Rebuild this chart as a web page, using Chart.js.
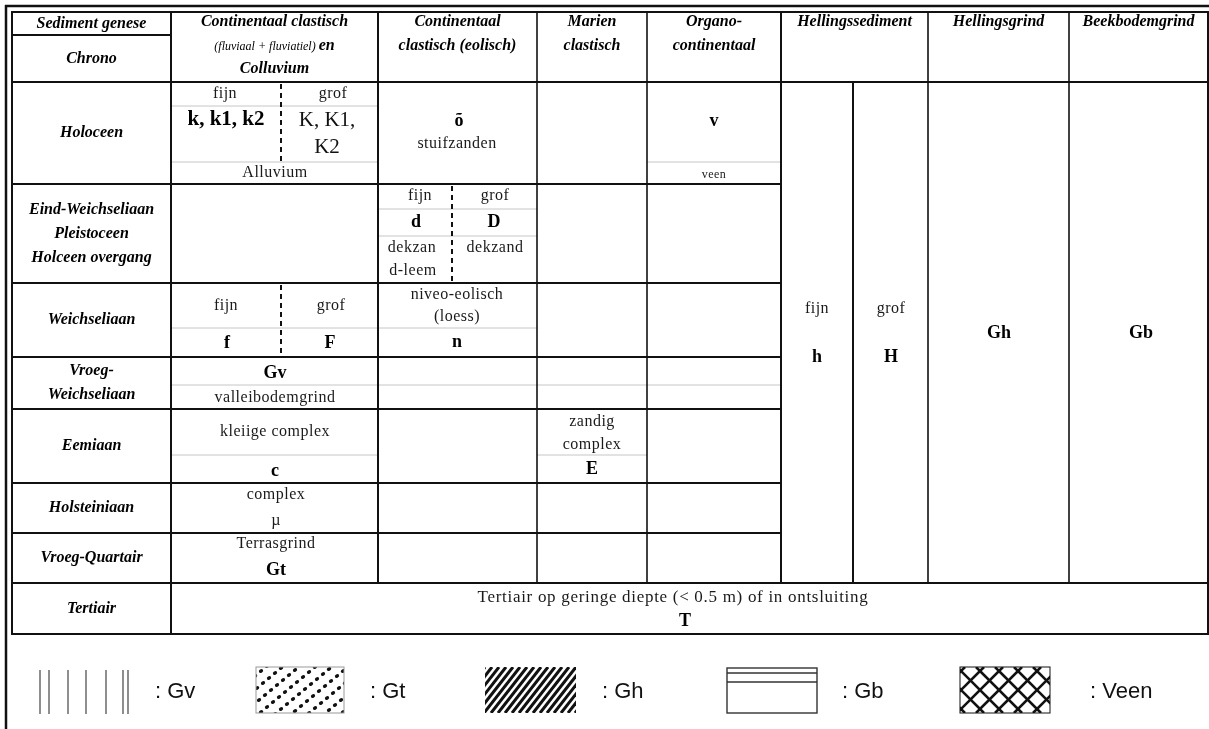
<!DOCTYPE html>
<html>
<head>
<meta charset="utf-8">
<script src="https://cdn.jsdelivr.net/npm/chart.js@4.4.0/dist/chart.umd.min.js"></script>
<style>
  html, body { margin: 0; padding: 0; background: #fff; overflow: hidden; }
</style>
</head>
<body>
<canvas id="tabel" width="1209" height="729"></canvas>
<script>
// ---- data ----
const chrono = ['Holoceen', 'Eind-Weichseliaan\nPleistoceen\nHolceen overgang', 'Weichseliaan',
  'Vroeg-\nWeichseliaan', 'Eemiaan', 'Holsteiniaan', 'Vroeg-Quartair', 'Tertiair'];
const genese = ['Continentaal clastisch\n(fluviaal + fluviatiel) en\nColluvium', 'Continentaal\nclastisch (eolisch)',
  'Marien\nclastisch', 'Organo-\ncontinentaal', 'Hellingssediment', 'Hellingsgrind', 'Beekbodemgrind'];
const cornerTexts = ['Sediment genese', 'Chrono'];
const cellTexts = ['fijn', 'grof', 'Alluvium', 'stuifzanden', 'fijn', 'grof', 'dekzan', 'd-leem', 'dekzand',
  'fijn', 'grof', 'niveo-eolisch', '(loess)', 'valleibodemgrind', 'kleiige complex', 'zandig', 'complex',
  'complex', '\u00b5', 'Terrasgrind', 'fijn', 'grof'];
const tertiairText = ['Tertiair op geringe diepte (< 0.5 m) of in ontsluiting'];
const smallTexts = ['veen'];
const bigCodes = ['k, k1, k2'];
const bigTexts = ['K, K1,', 'K2'];
const codeTexts = ['\u00f5', 'v', 'd', 'D', 'f', 'F', 'n', 'Gv', 'c', 'E', 'Gt', 'T', 'h', 'H', 'Gh', 'Gb'];
const legendCodes = ['Gv', 'Gt', 'Gh', 'Gb', 'Veen'];

// ---- layout (table units) ----
const colEdges = [12, 171, 378, 537, 647, 781, 928, 1069, 1208];
const rowEdges = [12, 82, 184, 283, 357, 409, 483, 533, 583, 634];
const hellingSplit = 853;
const cellPos = [[225, 94], [333, 94], [275, 173], [457, 144], [420, 196], [495, 196], [412, 248], [413, 271], [495, 248],
  [226, 306], [331, 306], [457, 295], [457, 317], [275, 398], [275, 432], [592, 422], [592, 445],
  [276, 495], [276, 521], [276, 544], [817, 309], [891, 309]];
const tertiairPos = [[673, 598]];
const smallPos = [[714, 175]];
const bigCodePos = [[226, 120]];
const bigPos = [[327, 120], [327, 147]];
const codePos = [[459, 121], [714, 121], [416, 222], [494, 222], [227, 343], [330, 343], [457, 342], [275, 373],
  [275, 471], [592, 469], [276, 570], [685, 621], [817, 357], [891, 357], [999, 333], [1141, 333]];
const legendBox = [[40, 128], [256, 344], [485, 576], [727, 817], [960, 1050]];
const legendTextX = [155, 370, 602, 842, 1090];

const serif = '"Liberation Serif", "Times New Roman", serif';
const sans = '"Liberation Sans", Arial, sans-serif';

function pts(list) { return list.map(p => ({ x: p[0], y: p[1] })); }
function ds(label, texts, pos, font, color, lh, spacing) {
  return { label: label, data: pts(pos), texts: texts, font: font, color: color || '#111',
    lineHeight: lh || 23, spacing: spacing || '0px', pointRadius: 0 };
}

const chronoPos = chrono.map((c, i) => [(colEdges[0] + colEdges[1]) / 2, (rowEdges[i + 1] + rowEdges[i + 2]) / 2]);
const cornerPos = [[(colEdges[0] + colEdges[1]) / 2, 23.5], [(colEdges[0] + colEdges[1]) / 2, 58.5]];
const genesePos = genese.map((g, i) => [(colEdges[i + 1] + colEdges[i + 2]) / 2, 22]);

const tablePlugin = {
  id: 'tabel',
  beforeDatasetsDraw(chart) {
    const ctx = chart.ctx, xs = chart.scales.x, ys = chart.scales.y;
    const X = v => xs.getPixelForValue(v), Y = v => ys.getPixelForValue(v);
    const line = (x0, y0, x1, y1, w, col, dash) => {
      ctx.save();
      ctx.beginPath();
      ctx.lineWidth = w; ctx.strokeStyle = col; ctx.setLineDash(dash || []);
      ctx.moveTo(X(x0), Y(y0)); ctx.lineTo(X(x1), Y(y1)); ctx.stroke();
      ctx.restore();
    };
    const H = (y, x0, x1, w, col, dash) => line(x0, y, x1, y, w, col, dash);
    const V = (x, y0, y1, w, col, dash) => line(x, y0, x, y1, w, col, dash);
    const blk = '#111', grey = '#c6c6c6';
    const L = colEdges, R = rowEdges;
    const last = L[L.length - 1];

    // outer frame
    H(6, 5, 1209, 2.5, blk); V(6, 5, 729, 2.5, blk);

    // light sub lines
    H(106, L[1], L[2], 1, grey); H(162, L[1], L[2], 1, grey);
    H(162, L[4], L[5], 1, grey);
    H(209, L[2], L[3], 1, grey); H(236, L[2], L[3], 1, grey);
    H(328, L[1], L[3], 1, grey);
    H(385, L[1], L[5], 1, grey);
    H(455, L[1], L[2], 1, grey); H(455, L[3], L[4], 1, grey);

    // dashed splits fijn / grof
    V(281, R[1] + 2, 162, 2, blk, [5, 4]);
    V(281, R[3] + 2, R[4] - 1, 2, blk, [5, 4]);
    V(452, R[2] + 2, R[3] - 1, 2, blk, [5, 4]);

    // horizontal rules
    H(R[0], L[0] - 1, last + 1, 2, blk);
    H(35, L[0], L[1], 2, blk);
    H(R[1], L[0], last, 2, blk);
    for (let i = 2; i <= 7; i++) H(R[i], L[0], L[5], 2, blk);
    H(R[8], L[0], last, 2, blk);
    H(R[9], L[0] - 1, last + 1, 2, blk);

    // vertical rules
    V(L[0], R[0], R[9], 2, blk);
    V(L[1], R[0], R[9], 2, blk);
    V(L[2], R[0], R[8], 2, blk);
    V(L[3], R[0], R[8], 1.6, blk);
    V(L[4], R[0], R[8], 1.6, blk);
    V(L[5], R[0], R[8], 2, blk);
    V(hellingSplit, R[1], R[8], 2, blk);
    V(L[6], R[0], R[8], 1.6, blk);
    V(L[7], R[0], R[8], 1.6, blk);
    V(last, R[0], R[9], 2, blk);

    // legend swatches
    const y0 = 667, y1 = 713;
    const clip = (a, b) => { ctx.save(); ctx.beginPath(); ctx.rect(X(a), Y(y0), X(b) - X(a), Y(y1) - Y(y0)); ctx.clip(); };
    // Gv: vertical strokes
    [40, 49, 68, 86, 106, 123, 128].forEach(x => V(x, 670, 714, 1.2, '#444'));
    // Gt: dots
    let [a, b] = legendBox[1];
    clip(a, b);
    ctx.fillStyle = '#111';
    for (let i = -8; i < 16; i++) {
      for (let j = -8; j < 14; j++) {
        const px = a + 5 + i * 8 + j * 6, py = y0 + 4 + i * 7 - j * 5;
        if (px < a - 3 || px > b + 3 || py < y0 - 3 || py > y1 + 3) continue;
        ctx.beginPath();
        ctx.ellipse(X(px), Y(py), 2.3, 1.7, -0.6, 0, Math.PI * 2);
        ctx.fill();
      }
    }
    ctx.restore();
    ctx.strokeStyle = '#999'; ctx.lineWidth = 1;
    ctx.strokeRect(X(a), Y(y0), X(b) - X(a), Y(y1) - Y(y0));
    // Gh: diagonal hatch
    [a, b] = legendBox[2];
    clip(a, b);
    for (let k = -50; k < (b - a) + 10; k += 7) {
      ctx.beginPath(); ctx.lineWidth = 3; ctx.strokeStyle = '#111';
      ctx.moveTo(X(a + k), Y(y1)); ctx.lineTo(X(a + k + 36), Y(y0)); ctx.stroke();
    }
    ctx.restore();
    // Gb: layered box
    [a, b] = legendBox[3];
    ctx.strokeStyle = '#333'; ctx.lineWidth = 1.4;
    ctx.strokeRect(X(a), Y(668), X(b) - X(a), Y(713) - Y(668));
    H(673, a, b, 1.4, '#333'); H(682, a, b, 1.4, '#333');
    // Veen: cross hatch
    [a, b] = legendBox[4];
    clip(a, b);
    ctx.strokeStyle = '#111'; ctx.lineWidth = 2.6;
    for (let k = -60; k < (b - a) + 60; k += 19) {
      ctx.beginPath(); ctx.moveTo(X(a + k), Y(y1)); ctx.lineTo(X(a + k + 46), Y(y0)); ctx.stroke();
      ctx.beginPath(); ctx.moveTo(X(a + k), Y(y0)); ctx.lineTo(X(a + k + 46), Y(y1)); ctx.stroke();
    }
    ctx.restore();
    ctx.strokeStyle = '#111'; ctx.lineWidth = 1;
    ctx.strokeRect(X(a), Y(y0), X(b) - X(a), Y(y1) - Y(y0));
  },
  afterDatasetsDraw(chart) {
    const ctx = chart.ctx;
    chart.data.datasets.forEach((d, i) => {
      const meta = chart.getDatasetMeta(i);
      ctx.save();
      ctx.fillStyle = d.color;
      ctx.textBaseline = 'middle';
      ctx.textAlign = d.align || 'center';
      ctx.letterSpacing = d.spacing;
      d.texts.forEach((t, j) => {
        const el = meta.data[j];
        const lines = t.split('\n');
        const top = d.anchorTop ? el.y : el.y - (lines.length - 1) * d.lineHeight / 2;
        lines.forEach((ln, k) => {
          const y = top + k * d.lineHeight;
          if (ln === '(fluviaal + fluviatiel) en') {
            const small = 'italic 12px ' + serif, big = d.font;
            ctx.font = small; const w1 = ctx.measureText('(fluviaal + fluviatiel) ').width;
            ctx.font = big; const w2 = ctx.measureText('en').width;
            const x0 = el.x - (w1 + w2) / 2;
            ctx.textAlign = 'left';
            ctx.font = small; ctx.fillText('(fluviaal + fluviatiel) ', x0, y + 1);
            ctx.font = big; ctx.fillText('en', x0 + w1, y);
            ctx.textAlign = 'center';
          } else {
            ctx.font = d.font;
            ctx.fillText(ln, el.x, y);
          }
        });
      });
      ctx.restore();
    });
  }
};

const hdrFont = 'italic bold 16px ' + serif;
const datasets = [
  ds('corner', cornerTexts, cornerPos, hdrFont, '#000'),
  Object.assign(ds('genese', genese, genesePos, hdrFont, '#000', 23.5), { anchorTop: true }),
  ds('chrono', chrono, chronoPos, hdrFont, '#000', 24),
  ds('cells', cellTexts, cellPos, '16px ' + serif, '#1a1a1a', 23, '0.5px'),
  ds('tertiair', tertiairText, tertiairPos, '17px ' + serif, '#1a1a1a', 23, '0.7px'),
  ds('small', smallTexts, smallPos, '12px ' + serif, '#1a1a1a', 23, '0.5px'),
  ds('bigcode', bigCodes, bigCodePos, 'bold 21px ' + serif, '#000'),
  ds('big', bigTexts, bigPos, '21px ' + serif, '#111'),
  ds('codes', codeTexts, codePos, 'bold 18px ' + serif, '#000'),
  Object.assign(ds('legend', legendCodes.map(c => ': ' + c), legendTextX.map(x => [x, 692]), '22px ' + sans, '#111'), { align: 'left' })
];

const chart = new Chart(document.getElementById('tabel').getContext('2d'), {
  type: 'scatter',
  data: { datasets: datasets },
  options: {
    responsive: false,
    animation: false,
    events: [],
    layout: { padding: 0 },
    plugins: { legend: { display: false }, tooltip: { enabled: false } },
    elements: { point: { radius: 0, hoverRadius: 0 } },
    scales: {
      x: { type: 'linear', min: 0, max: 1209, display: false },
      y: { type: 'linear', min: 0, max: 729, reverse: true, display: false }
    }
  },
  plugins: [tablePlugin]
});
</script>
</body>
</html>
